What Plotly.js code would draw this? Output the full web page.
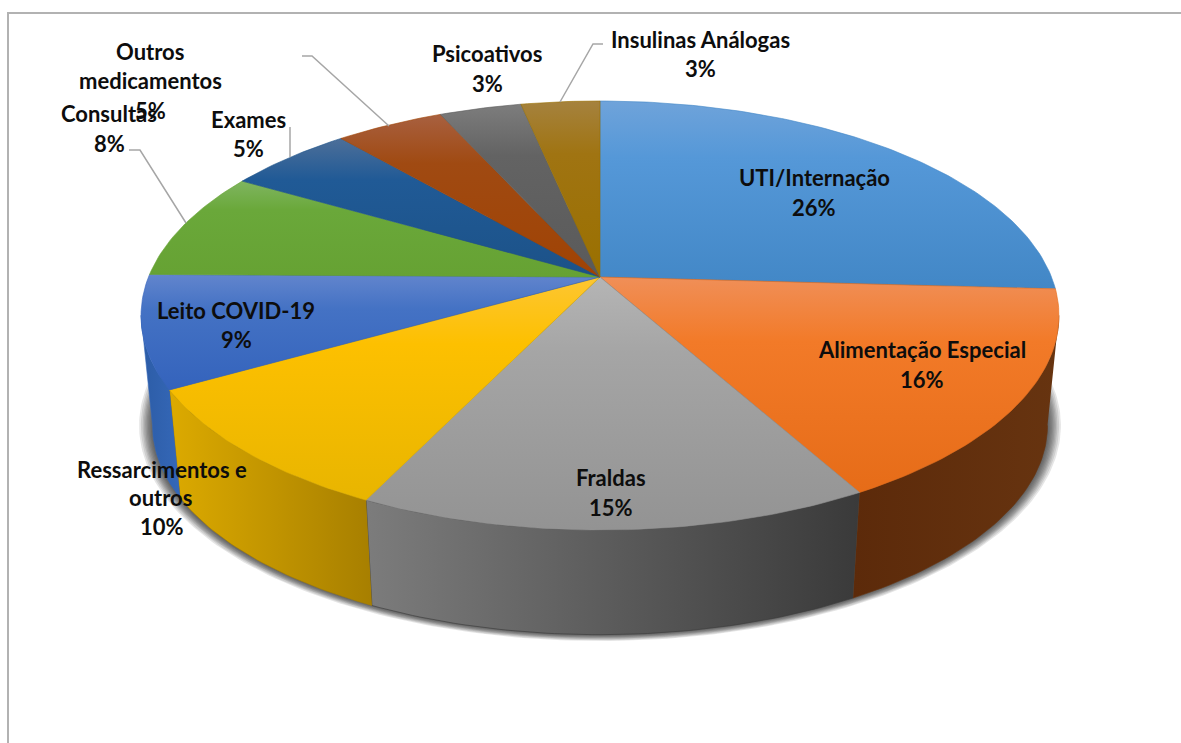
<!DOCTYPE html>
<html>
<head>
<meta charset="utf-8">
<script src="https://cdn.plot.ly/plotly-3.0.1.min.js"></script>
<style>html,body{margin:0;padding:0;background:#fff;overflow:hidden}</style>
</head>
<body>
<div id="chart" style="width:1181px;height:743px"></div>
<script>
// ---- data ----
const categories = ["UTI/Internação","Alimentação Especial","Fraldas","Ressarcimentos e outros","Leito COVID-19","Consultas","Exames","Outros medicamentos","Psicoativos","Insulinas Análogas"];
const shares = [25.9, 16.05, 15.2, 9.6, 8.45, 8.2, 5.3, 4.55, 3.45, 3.3];
const percentLabels = ["26%","16%","15%","10%","9%","8%","5%","5%","3%","3%"];

// ---- styles ----
const topShades = [
  ["#6fa3da","#5598d8","#4287c6"],["#f08f58","#f27a28","#e66c18"],["#b5b5b5","#a5a5a5","#939393"],
  ["#fdc632","#fdc000","#e8b500"],["#6285cd","#4472c4","#3463bc"],["#7fb560","#6aa83a","#66a233"],
  ["#4d6f99","#205a96","#1c5288"],["#a86040","#a04a12","#a04304"],["#7d7d7d","#636363","#5a5a5a"],["#a5823e","#a07412","#9a7000"]];
const sideShades = {1:["#5c2a0a","#673410"],2:["#7c7c7c","#3a3a3a"],3:["#dcaa00","#a77f00"],4:["#2c5ca6","#3568b8"]};
const frontFrom = 100.3, frontTo = 259.7;
const lineLayout = [
  [[814,177,"UTI/Internação"],[814,207,0]],
  [[922,349,"Alimentação Especial"],[922,379,1]],
  [[611,477,"Fraldas"],[611,507,2]],
  [[162,469,"Ressarcimentos e"],[160,497,"outros"],[162,526,3]],
  [[236,310,"Leito COVID-19"],[236,339,4]],
  [[109,113,"Consultas"],[109,143,5]],
  [[248,119,"Exames"],[248,148,6]],
  [[150,51,"Outros"],[150,80,"medicamentos"],[150,110,7]],
  [[487,53,"Psicoativos"],[487,83,8]],
  [[700,39,"Insulinas Análogas"],[700,68,9]]
];
const leaders = ["M129,150L140,150L186,223","M290,127L290,157","M302,56L312,56L389,126","M603,44L593,44L560,102"];

// ---- projection of the tilted disc onto the axes ----
const cx=600, cy=277, A=451.5, B=207.6, k=0.1795, shrink=0.975, drop=111;
function rim(deg){
  const t=deg*Math.PI/180, w=1+k*Math.cos(t);
  return [cx+A*Math.sin(t)/w, cy-B*Math.cos(t)/w];
}
function low(p,grow){
  const g=grow||1;
  return [cx+(p[0]-cx)*shrink*g, cy+38.5+ (p[1]-cy-38.5)*shrink*g + drop + 38.5*(shrink-1)];
}
function arc(a,b){
  const n=Math.max(2,Math.ceil(Math.abs(b-a))), out=[];
  for(let i=0;i<=n;i++) out.push(rim(a+(b-a)*i/n));
  return out;
}
function gradient(type,stops,start,stop){
  const colorscale=stops.length===3?[[0,stops[0]],[0.3,stops[1]],[1,stops[2]]]:[[0,stops[0]],[1,stops[1]]];
  return {type,start,stop,colorscale};
}
function poly(pts,fillgradient,lineColor){
  return {type:"scatter",mode:"lines",x:pts.map(p=>p[0]),y:pts.map(p=>p[1]),fill:"toself",
    fillgradient,line:{width:0.6,color:lineColor},hoverinfo:"skip",showlegend:false};
}

const traces=[];
// soft shadow below the disc
const full=arc(0,360);
const shadowSteps=[1.030,1.026,1.022,1.019,1.016,1.013,1.010,1.007,1.004,1.001];
shadowSteps.forEach(g=>{
  const pts=full.map(p=>low(p,g));
  traces.push({type:"scatter",mode:"lines",x:pts.map(p=>p[0]),y:pts.map(p=>p[1]),fill:"toself",
    fillcolor:"rgba(40,40,40,0.12)",line:{width:0},hoverinfo:"skip",showlegend:false});
});
// cumulative angles
let acc=0;
const edges=shares.map(v=>{const a=acc*3.6; acc+=v; return [a,acc*3.6];});
// side walls
Object.keys(sideShades).forEach(i=>{
  const a=Math.max(edges[i][0],frontFrom), b=Math.min(edges[i][1],frontTo);
  const upper=arc(a,b), lower=upper.map(p=>low(p)).reverse();
  const pts=upper.concat(lower), xs=pts.map(p=>p[0]);
  const c=sideShades[i];
  traces.push(poly(pts,gradient("horizontal",c,Math.min(...xs),Math.max(...xs)),c[1]));
});
// top faces
edges.forEach((e,i)=>{
  const pts=[[cx,cy]].concat(arc(e[0],e[1]));
  pts.push([cx,cy]);
  const ys=pts.map(p=>p[1]);
  const c=topShades[i];
  const t=traces.push(poly(pts,gradient("vertical",c,Math.min(...ys),Math.max(...ys)),c[2]))-1;
  traces[t].name=categories[i];
});

const annotations=[];
lineLayout.forEach(group=>group.forEach(l=>{
  annotations.push({x:l[0],y:l[1],xref:"x",yref:"y",xanchor:"center",yanchor:"middle",showarrow:false,
    text:"<b>"+(typeof l[2]==="number"?percentLabels[l[2]]:l[2])+"</b>",
    font:{family:"Lato, 'Open Sans', sans-serif",size:22,color:"#0d0d0d"}});
}));
const shapes=leaders.map(d=>({type:"path",path:d,line:{color:"#a6a6a6",width:1.5},xref:"x",yref:"y"}));
shapes.push({type:"path",path:"M8,743L8,13L1181,13",line:{color:"#b2b2b2",width:2},xref:"x",yref:"y"});

Plotly.newPlot("chart",traces,{
  width:1181,height:743,margin:{l:0,r:0,t:0,b:0},paper_bgcolor:"#fff",plot_bgcolor:"#fff",showlegend:false,
  xaxis:{range:[0,1181],visible:false,fixedrange:true},
  yaxis:{range:[743,0],visible:false,fixedrange:true},
  annotations,shapes
},{displayModeBar:false,staticPlot:true});
</script>
</body>
</html>
